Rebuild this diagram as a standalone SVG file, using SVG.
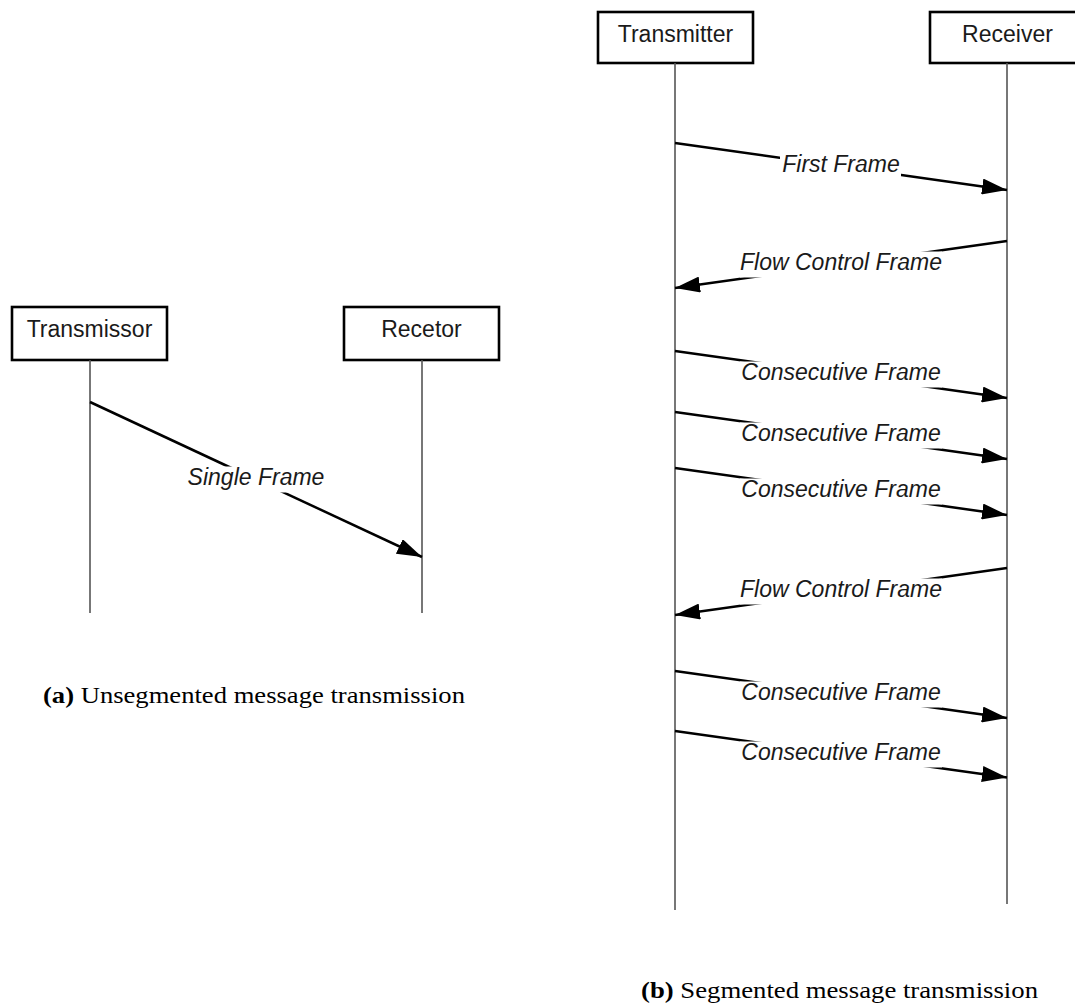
<svg xmlns="http://www.w3.org/2000/svg" width="1075" height="1005" viewBox="0 0 1075 1005">
  <style>
    .box { fill: #ffffff; stroke: #000000; stroke-width: 2.6; }
    .name { font-family: "Liberation Sans", Arial, sans-serif; font-size: 23px; fill: #1a1a1a; text-anchor: middle; }
    .life { stroke: #555555; stroke-width: 1.6; fill: none; }
    .msg { stroke: #000000; stroke-width: 2.5; fill: none; marker-end: url(#head); }
    .bg { fill: #ffffff; stroke: none; }
    .lbl { font-family: "Liberation Sans", Arial, sans-serif; font-size: 23px; font-style: italic; fill: #1a1a1a; text-anchor: middle; }
    .cap { font-family: "Liberation Serif", "Times New Roman", serif; font-size: 24px; fill: #000000; }
  </style>
  <defs>
    <marker id="head" markerUnits="userSpaceOnUse" markerWidth="25" markerHeight="16" refX="25" refY="8" orient="auto" viewBox="0 0 25 16">
      <path d="M0,0 L25,8 L0,16 Z" fill="#000000"/>
    </marker>
  </defs>

  <rect width="1075" height="1005" fill="#ffffff"/>

  <!-- (a) unsegmented: participants -->
  <g id="transmissor">
    <rect class="box" x="12" y="307" width="155" height="53"/>
    <text class="name" x="89.5" y="337">Transmissor</text>
    <line class="life" x1="90" y1="360" x2="90" y2="613"/>
  </g>
  <g id="recetor">
    <rect class="box" x="344" y="307" width="155" height="53"/>
    <text class="name" x="421.5" y="337">Recetor</text>
    <line class="life" x1="422" y1="360" x2="422" y2="613"/>
  </g>

  <!-- (b) segmented: participants -->
  <g id="transmitter">
    <rect class="box" x="598" y="12" width="155" height="51"/>
    <text class="name" x="675.5" y="42">Transmitter</text>
    <line class="life" x1="675" y1="63" x2="675" y2="910"/>
  </g>
  <g id="receiver">
    <rect class="box" x="930" y="12" width="155" height="51"/>
    <text class="name" x="1007.5" y="42">Receiver</text>
    <line class="life" x1="1007" y1="63" x2="1007" y2="904"/>
  </g>

  <!-- messages -->
  <g id="connectors">
    <line class="msg" x1="90" y1="402" x2="422" y2="557"/>
    <rect class="bg" x="186" y="466.5" width="139" height="26"/>
    <text class="lbl" x="256" y="484.5">Single Frame</text>

    <line class="msg" x1="675" y1="143" x2="1007" y2="190"/>
    <rect class="bg" x="780" y="153.5" width="121" height="26"/>
    <text class="lbl" x="841" y="171.5">First Frame</text>

    <line class="msg" x1="1007" y1="241" x2="675" y2="288"/>
    <rect class="bg" x="740" y="251.5" width="202" height="26"/>
    <text class="lbl" x="841" y="269.5">Flow Control Frame</text>

    <line class="msg" x1="675" y1="351" x2="1007" y2="398"/>
    <rect class="bg" x="740" y="361.5" width="202" height="26"/>
    <text class="lbl" x="841" y="379.5">Consecutive Frame</text>

    <line class="msg" x1="675" y1="412" x2="1007" y2="459"/>
    <rect class="bg" x="740" y="422.5" width="202" height="26"/>
    <text class="lbl" x="841" y="440.5">Consecutive Frame</text>

    <line class="msg" x1="675" y1="468" x2="1007" y2="515"/>
    <rect class="bg" x="740" y="478.5" width="202" height="26"/>
    <text class="lbl" x="841" y="496.5">Consecutive Frame</text>

    <line class="msg" x1="1007" y1="568" x2="675" y2="615"/>
    <rect class="bg" x="740" y="578.5" width="202" height="26"/>
    <text class="lbl" x="841" y="596.5">Flow Control Frame</text>

    <line class="msg" x1="675" y1="671" x2="1007" y2="718"/>
    <rect class="bg" x="740" y="681.5" width="202" height="26"/>
    <text class="lbl" x="841" y="699.5">Consecutive Frame</text>

    <line class="msg" x1="675" y1="731" x2="1007" y2="777.5"/>
    <rect class="bg" x="740" y="741.5" width="202" height="26"/>
    <text class="lbl" x="841" y="759.5">Consecutive Frame</text>
  </g>

  <!-- captions -->
  <text class="cap" x="43" y="703" textLength="422" lengthAdjust="spacingAndGlyphs"><tspan font-weight="bold">(a)</tspan> Unsegmented message transmission</text>
  <text class="cap" x="641" y="998" textLength="397" lengthAdjust="spacingAndGlyphs"><tspan font-weight="bold">(b)</tspan> Segmented message transmission</text>
</svg>
